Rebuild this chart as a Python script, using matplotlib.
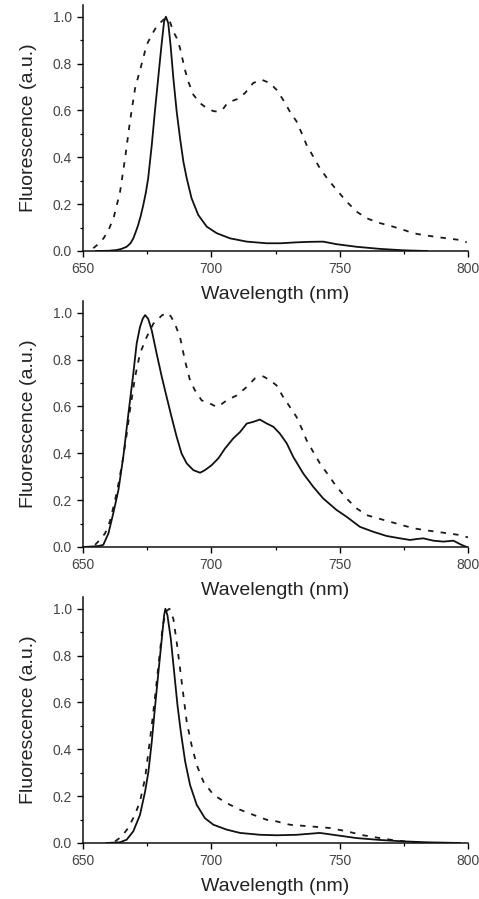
import matplotlib
matplotlib.use("Agg")
import matplotlib.pyplot as plt
from matplotlib.ticker import MultipleLocator

plt.rcParams["font.family"] = ["Liberation Sans", "DejaVu Sans"]

# panel 1
p1_dash_wl = [654, 656, 658, 660, 662, 664.4, 666.4, 668.3, 670.3, 672.9, 674.8, 676.8, 678.7,
              681.3, 682.6, 684, 685.2, 686.5, 687.8, 689.7, 691, 693, 695.6, 698.2, 700.8,
              702.5, 704.5, 706, 708, 710, 713.1, 716.3, 719.6, 722.8, 725.4, 728, 730.6, 733.2,
              735.2, 737.1, 739.7, 742.3, 745.6, 748.8, 752.7, 756.6, 760.5, 765, 769.6, 774.1,
              778.7, 782.6, 787.1, 791.7, 796.9, 799.5]
p1_dash = [0.012, 0.03, 0.054, 0.09, 0.145, 0.25, 0.396, 0.553, 0.695, 0.80, 0.88, 0.923, 0.959,
           0.987, 0.995, 0.975, 0.937, 0.909, 0.866, 0.774, 0.724, 0.667, 0.631, 0.61, 0.597,
           0.595, 0.605, 0.628, 0.64, 0.648, 0.674, 0.717, 0.731, 0.717, 0.688, 0.645, 0.595, 0.553,
           0.503, 0.453, 0.403, 0.353, 0.303, 0.261, 0.211, 0.168, 0.14, 0.121, 0.108, 0.093,
           0.076, 0.068, 0.061, 0.054, 0.047, 0.037]
p1_solid_wl = [655, 660, 663, 665, 667, 668.5, 669.6, 670.5, 671.5, 672.5, 673.5, 674.5, 675.4,
               676.8, 678, 679.3, 680.6, 681.6, 682.3, 683.2, 684.1, 685.2, 686.5, 687.8, 689.1,
               690.4, 692.3, 694.9, 698.2, 702.1, 707.3, 713.8, 721.6, 727, 733.2, 738, 743.6,
               748.8, 756.6, 765.7, 774.8, 784]
p1_solid = [0.0, 0.001, 0.004, 0.009, 0.018, 0.033, 0.054, 0.08, 0.111, 0.15, 0.197, 0.25, 0.311,
            0.453, 0.595, 0.738, 0.88, 0.98, 1.0, 0.973, 0.88, 0.738, 0.595, 0.482, 0.382,
            0.311, 0.225, 0.154, 0.104, 0.076, 0.054, 0.040, 0.033, 0.033, 0.037, 0.039, 0.040,
            0.029, 0.018, 0.009, 0.003, 0.0]

# panel 2
p2_dash_wl = [654.7, 656.5, 658.6, 660.5, 662.5, 664, 665.7, 667, 668.3, 670.3, 672.2, 674.8,
              677.4, 680.7, 682.5, 684.2, 685.8, 687.8, 689.7, 691.7, 693.6, 696.2, 699.5, 702.1,
              704, 706, 709.9, 713.8, 717, 720.3, 722.8, 725.4, 728, 730.6, 733.2, 735.2, 737.1,
              739.7, 742.3, 745.6, 748.8, 752.7, 756.6, 760.5, 765, 769.6, 774.1, 778.7, 783.2,
              787.8, 792.3, 796.9, 800]
p2_dash = [0.009, 0.03, 0.058, 0.11, 0.20, 0.28, 0.385, 0.48, 0.584, 0.726, 0.826, 0.896,
           0.953, 0.988, 1.0, 0.985, 0.953, 0.896, 0.797, 0.711, 0.669, 0.626, 0.612, 0.598,
           0.61, 0.626, 0.647, 0.683, 0.72, 0.728, 0.712, 0.69, 0.640, 0.598, 0.555, 0.506, 0.456,
           0.406, 0.357, 0.307, 0.257, 0.207, 0.165, 0.136, 0.122, 0.108, 0.094, 0.080, 0.072,
           0.065, 0.058, 0.051, 0.041]
p2_solid_wl = [650.5, 656, 657.9, 659.9, 661.8, 663.8, 665.7, 667.7, 669.6, 670.9, 672.2, 673.3,
               674.2, 675.4, 676.8, 678.7, 680.7, 682.6, 684.5, 686.5, 688.4, 690.4, 693, 695.6,
               697.5, 700.1, 702.7, 705.3, 708.5, 711.2, 713.8, 716.3, 718.9, 721.6, 724.2,
               726.7, 729.4, 731.9, 735.8, 739.7, 743.6, 748.8, 752.7, 757.9, 763.1, 768.3,
               773.5, 777.4, 780, 782.6, 786.5, 790.4, 794.3, 797.5, 799.5]
p2_solid = [0.0, 0.004, 0.009, 0.058, 0.144, 0.243, 0.385, 0.57, 0.74, 0.868, 0.939, 0.975,
            0.99, 0.974, 0.924, 0.825, 0.726, 0.64, 0.555, 0.47, 0.399, 0.357, 0.328, 0.317,
            0.328, 0.349, 0.378, 0.42, 0.463, 0.491, 0.527, 0.534, 0.544, 0.527, 0.513,
            0.484, 0.442, 0.385, 0.314, 0.257, 0.207, 0.158, 0.129, 0.086, 0.065, 0.047,
            0.037, 0.030, 0.034, 0.037, 0.027, 0.023, 0.027, 0.009, 0.0]

# panel 3
p3_dash_wl = [662.5, 665.1, 667.6, 670.2, 672.2, 674.2, 675.5, 676.8, 678, 679.4, 681.1, 682.4,
              683.7, 685.2, 686.5, 687.8, 689.1, 690.4, 692.3, 694.3, 696.9, 700.8, 706, 711.2,
              716.4, 721.6, 725.5, 730.6, 738.4, 746.2, 752.7, 759.2, 765.7, 772.2, 778.7,
              785.2, 798]
p3_dash = [0.007, 0.028, 0.064, 0.12, 0.177, 0.277, 0.39, 0.503, 0.617, 0.759, 0.929, 0.989,
           1.0, 0.957, 0.858, 0.745, 0.631, 0.518, 0.418, 0.333, 0.262, 0.206, 0.170, 0.142,
           0.12, 0.099, 0.092, 0.078, 0.071, 0.064, 0.05, 0.033, 0.021, 0.01, 0.004,
           0.0, 0.0]
p3_solid_wl = [659.2, 664.4, 667, 669.6, 672.2, 674.2, 675.5, 676.8, 678, 679.4, 680.7, 681.6,
               682.1, 682.9, 684.2, 685.5, 686.8, 688.1, 689.8, 691.7, 694.3, 697.5, 700.8, 706,
               711.2, 719, 725.5, 733.2, 742.3, 748.8, 756.6, 765.7, 774.8, 783.9, 796.9]
p3_solid = [0.0, 0.003, 0.014, 0.05, 0.12, 0.22, 0.305, 0.433, 0.574, 0.731, 0.872, 0.972,
            1.0, 0.972, 0.872, 0.731, 0.589, 0.475, 0.348, 0.248, 0.163, 0.106, 0.078, 0.057,
            0.043, 0.035, 0.033, 0.035, 0.043, 0.033, 0.021, 0.013, 0.007, 0.003, 0.0]

panels = [
    (p1_solid_wl, p1_solid, p1_dash_wl, p1_dash),
    (p2_solid_wl, p2_solid, p2_dash_wl, p2_dash),
    (p3_solid_wl, p3_solid, p3_dash_wl, p3_dash),
]
bottoms = [648, 352, 56]  # px from figure bottom

W, H = 479, 899
fig = plt.figure(figsize=(W / 100, H / 100), dpi=100)

for (sw, sv, dw, dv), b in zip(panels, bottoms):
    ax = fig.add_axes([83 / W, b / H, 385 / W, 246 / H])
    ax.plot(dw, dv, color="#1a1a1a", lw=1.3, dashes=(3, 4))
    ax.plot(sw, sv, color="#111111", lw=1.3)
    ax.set_xlim(650, 800)
    ax.set_ylim(0, 1.05)
    ax.xaxis.set_major_locator(MultipleLocator(50))
    ax.xaxis.set_minor_locator(MultipleLocator(25))
    ax.yaxis.set_major_locator(MultipleLocator(0.2))
    ax.yaxis.set_minor_locator(MultipleLocator(0.1))
    ax.yaxis.set_major_formatter(plt.FormatStrFormatter("%.1f"))
    for s in ("top", "right"):
        ax.spines[s].set_visible(False)
    for s in ("left", "bottom"):
        ax.spines[s].set_linewidth(1.1)
        ax.spines[s].set_color("#111111")
    ax.tick_params(which="major", direction="out", length=4, width=1.0,
                   labelsize=10, labelcolor="#444444", pad=4)
    ax.tick_params(which="minor", direction="out", length=2.5, width=0.9)
    ax.set_xlabel("Wavelength (nm)", fontsize=14, color="#222222", labelpad=7)
    ax.set_ylabel("Fluorescence (a.u.)", fontsize=14, color="#222222", labelpad=11)
    ax.patch.set_alpha(0)

fig.savefig("out.png", dpi=100)
